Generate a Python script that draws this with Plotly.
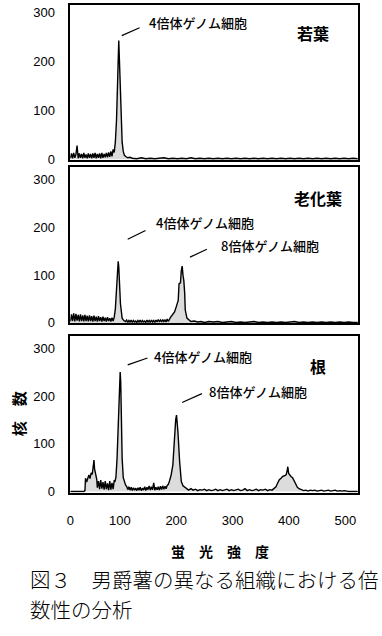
import plotly.graph_objects as go

W, H = 382, 636

# ---------------- data ----------------
panel_names = ["若葉", "老化葉", "根"]

young_x = [12, 14, 16, 18, 20, 22, 24, 26, 28, 30,
           32, 34, 36, 38, 40, 42, 44, 46, 48, 50,
           52, 54, 56, 58, 60, 62, 64, 66, 68, 70,
           72, 74, 76, 78, 80, 82, 84, 86, 88, 90,
           92, 94, 96, 98, 100, 102, 104, 106, 108, 111,
           114, 118, 122, 130, 138, 146, 154, 162, 170, 178,
           186, 194, 202, 210, 218, 226, 234, 242, 250, 258,
           266, 274, 282, 290, 298, 306, 314, 322, 330, 338,
           346, 354, 362, 370, 378, 386, 394, 402, 410, 418,
           426, 434, 442, 450, 458, 466, 474, 482, 490, 498,
           506, 514, 522]
young_n = [2, 12, 2, 13, 3, 10, 28, 2, 12, 3,
           11, 2, 13, 3, 10, 2, 12, 3, 11, 2,
           12, 3, 13, 2, 11, 3, 12, 2, 13, 3,
           11, 4, 13, 4, 14, 5, 16, 6, 20, 14,
           36, 80, 160, 243, 175, 95, 35, 16, 8, 5,
           3, 4, 2, 1, 3, 1, 2, 1, 2, 3,
           1, 2, 1, 2, 1, 3, 1, 2, 1, 2,
           1, 2, 1, 2, 1, 2, 1, 2, 1, 2,
           1, 2, 1, 2, 1, 2, 1, 2, 1, 2,
           1, 2, 1, 2, 1, 2, 1, 2, 1, 2,
           1, 2, 1]

old_x = [12, 14, 16, 18, 20, 22, 24, 26, 28, 30,
         32, 34, 36, 38, 40, 42, 44, 46, 48, 50,
         52, 54, 56, 58, 60, 62, 64, 66, 68, 70,
         72, 74, 76, 78, 80, 82, 84, 86, 88, 90,
         92, 94, 96, 97, 98, 99, 101, 104, 107, 110,
         112, 114, 116, 118, 120, 122, 124, 126, 128, 130,
         132, 134, 136, 138, 140, 142, 144, 146, 148, 150,
         152, 154, 156, 158, 160, 162, 164, 166, 168, 170,
         172, 174, 176, 178, 180, 182, 184, 186, 188, 190,
         192, 194, 197, 199, 201, 203.5, 205, 207.5, 209, 210.5,
         212, 213.5, 215, 216, 219, 222, 226, 232, 238, 244,
         250, 258, 266, 274, 282, 290, 298, 306, 314, 322,
         330, 338, 346, 354, 362, 370, 378, 386, 394, 402,
         410, 418, 426, 434, 442, 450, 458, 466, 474, 482,
         490, 498, 506, 514, 522]
old_n = [3, 18, 4, 20, 3, 19, 5, 17, 3, 18,
         4, 16, 3, 17, 4, 15, 3, 16, 4, 14,
         3, 15, 4, 13, 3, 14, 4, 12, 3, 13,
         4, 11, 3, 12, 4, 10, 3, 11, 4, 12,
         30, 74, 110, 129, 118, 74, 40, 10, 5, 3,
         6, 1, 5, 2, 6, 1, 5, 2, 4, 1,
         5, 2, 6, 1, 5, 2, 4, 1, 6, 2,
         5, 1, 6, 2, 5, 1, 6, 2, 7, 3,
         6, 2, 7, 3, 6, 2, 8, 3, 9, 12,
         15, 18, 23, 30, 40, 47, 82, 84, 109, 119,
         100, 88, 62, 27, 10, 6, 3, 4, 2, 3,
         1, 3, 2, 3, 1, 2, 3, 1, 2, 1,
         2, 3, 1, 2, 1, 2, 1, 2, 1, 2,
         3, 1, 2, 1, 2, 1, 2, 1, 2, 1,
         2, 1, 2, 1, 1]

root_x = [12, 20, 28, 36, 38, 39, 41, 43, 45, 47,
          49, 51, 53, 54, 55, 57, 59, 60, 62, 64,
          66, 68, 70, 72, 74, 76, 78, 80, 82, 84,
          86, 88, 90, 91, 93, 95, 97, 99, 100.5, 101.5,
          102.5, 104, 106, 108, 110, 112, 114, 116, 118, 120,
          122, 124, 126, 128, 130, 132, 134, 136, 138, 140,
          142, 144, 146, 148, 150, 152, 154, 156, 158, 160,
          162, 164, 166, 168, 170, 172, 174, 176, 178, 180,
          182, 184, 186, 188, 191, 194, 197, 199, 200.5, 202,
          203, 206, 209, 212, 215, 218, 222, 226, 230, 234,
          238, 242, 246, 250, 254, 258, 262, 266, 270, 274,
          278, 282, 286, 290, 294, 298, 302, 306, 310, 314,
          318, 322, 326, 330, 334, 338, 342, 346, 350, 354,
          358, 362, 366, 370, 374, 377, 380, 383, 386, 389,
          392, 395, 397, 398, 399.5, 401, 404, 406.5, 409, 412,
          415, 418, 422, 426, 430, 434, 438, 442, 446, 450,
          454, 458, 462, 466, 470, 474, 478, 482, 486, 490,
          494, 498, 503, 506, 514, 522]
root_n = [0, 0, 0, 0, 2, 28, 20, 31, 35, 27,
          39, 36, 50, 66, 48, 35, 25, 8, 22, 5,
          24, 6, 20, 4, 22, 5, 17, 3, 22, 4,
          18, 5, 24, 20, 30, 70, 125, 195, 250, 230,
          160, 70, 29, 18, 14, 11, 4, 10, 3, 9,
          2, 8, 3, 7, 2, 8, 3, 9, 2, 7,
          3, 10, 2, 9, 4, 12, 3, 10, 4, 18,
          3, 9, 4, 10, 3, 11, 4, 12, 5, 11,
          6, 13, 15, 22, 35, 56, 118, 150, 160, 140,
          125, 63, 21, 12, 9, 5, 3, 6, 3, 5,
          2, 4, 3, 5, 2, 4, 2, 3, 5, 2,
          4, 2, 3, 5, 2, 4, 2, 3, 5, 2,
          3, 6, 2, 4, 2, 3, 5, 2, 4, 3,
          5, 2, 4, 3, 6, 10, 18, 25, 28, 32,
          33, 35, 45, 52, 38, 35, 31, 29, 22, 14,
          9, 6, 4, 2, 3, 1, 3, 2, 3, 1,
          2, 3, 1, 2, 3, 1, 2, 3, 1, 2,
          1, 2, 1, 0, 0, 0]

x_tickvals = [12, 100, 200, 300, 400, 500]
x_ticktext = ["0", "100", "200", "300", "400", "500"]
y_tickvals = [0, 100, 200, 300]
x_title = "蛍　光　強　度"
y_title = "核　数"
peak_labels = [
    [("4倍体ゲノム細胞", 145, 23)],
    [("4倍体ゲノム細胞", 152, 225), ("8倍体ゲノム細胞", 217, 248)],
    [("4倍体ゲノム細胞", 150, 360), ("8倍体ゲノム細胞", 205, 396)],
]
caption_lines = ["図３　男爵薯の異なる組織における倍", "数性の分析"]

# ---------------- layout helpers ----------------
JP = "Noto Sans CJK JP"
NUM = "Liberation Sans, Arial, sans-serif"
x_range = [12, 523]
y_ranges = [[-2, 316], [-1, 326], [-2, 325]]
boxes = [(5, 162), (169, 327), (340, 498)]   # top / bottom in px
X0, X1 = 67, 358


def px(x):
    return x / W


def py(y):
    return 1 - y / H


fig = go.Figure()
series = [(young_x, young_n), (old_x, old_n), (root_x, root_n)]
layout = {}
for i, (xs, ys) in enumerate(series):
    sfx = "" if i == 0 else str(i + 1)
    fig.add_trace(go.Scatter(
        x=xs, y=ys, mode="lines",
        line=dict(color="black", width=1.4),
        fill="tozeroy", fillcolor="#dcdcdc",
        xaxis="x" + sfx, yaxis="y" + sfx,
        showlegend=False, hoverinfo="skip"))
    top, bot = boxes[i]
    last = (i == 2)
    layout["xaxis" + sfx] = dict(
        domain=[px(X0), px(X1)], range=x_range, anchor="y" + sfx,
        showline=True, mirror=True, linecolor="black", linewidth=1.6,
        showgrid=False, zeroline=False,
        tickvals=x_tickvals, ticktext=x_ticktext,
        showticklabels=last, ticks="outside" if last else "",
        ticklen=15, tickcolor="rgba(0,0,0,0)",
        tickfont=dict(family=NUM, size=13, color="black"))
    layout["yaxis" + sfx] = dict(
        domain=[py(bot), py(top)], range=y_ranges[i], anchor="x" + sfx,
        showline=True, mirror=True, linecolor="black", linewidth=1.6,
        showgrid=False, zeroline=False,
        tickvals=y_tickvals, ticks="outside", ticklen=11,
        tickcolor="rgba(0,0,0,0)",
        tickfont=dict(family=NUM, size=13, color="black"))

annotations = []
panel_pos = [(312, 33), (317.5, 200), (317.5, 370)]
for name, (x, y) in zip(panel_names, panel_pos):
    annotations.append(dict(text=name, x=px(x), y=py(y), xref="paper", yref="paper",
                            xanchor="center", yanchor="middle", showarrow=False,
                            font=dict(family=JP, size=16, color="black", weight="bold")))
for group in peak_labels:
    for text, x, y in group:
        annotations.append(dict(text=text, x=px(x), y=py(y), xref="paper", yref="paper",
                                xanchor="left", yanchor="middle", showarrow=False,
                                font=dict(family=JP, size=13, color="black", weight=500)))
annotations.append(dict(text=x_title, x=px(218), y=py(557), xref="paper", yref="paper",
                        xanchor="center", yanchor="middle", showarrow=False,
                        font=dict(family=JP, size=14, color="black", weight="bold")))
annotations.append(dict(text=y_title, x=px(15), y=py(418), xref="paper", yref="paper",
                        xanchor="center", yanchor="middle", showarrow=False, textangle=-90,
                        font=dict(family=JP, size=15, color="black", weight="bold")))
for line, y in zip(caption_lines, [585, 615.5]):
    annotations.append(dict(text=line, x=px(25), y=py(y), xref="paper", yref="paper",
                            xanchor="left", yanchor="middle", showarrow=False, borderpad=0,
                            font=dict(family=JP, size=20.5, color="black", weight=300)))

leaders = [(119, 36, 137, 28),
           (125, 242, 143, 233), (188, 260, 205, 252),
           (125, 369, 145, 362), (180, 407, 200, 398)]
shapes = [dict(type="line", xref="paper", yref="paper",
               x0=px(a), y0=py(b), x1=px(c), y1=py(d),
               line=dict(color="black", width=1.2)) for a, b, c, d in leaders]

fig.update_layout(
    width=W, height=H,
    margin=dict(l=0, r=0, t=0, b=0),
    paper_bgcolor="white", plot_bgcolor="white",
    annotations=annotations, shapes=shapes,
    **layout)

fig.write_html("out.html")
